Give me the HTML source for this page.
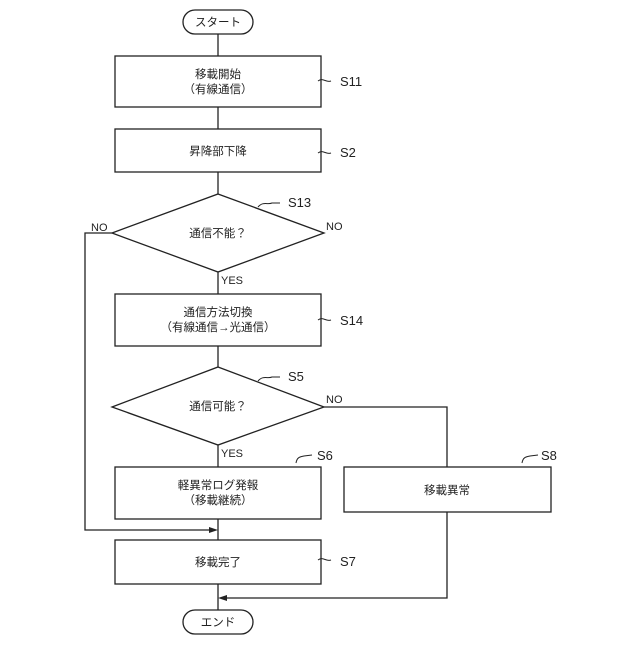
<!DOCTYPE html>
<html><head><meta charset="utf-8"><style>
html,body{margin:0;padding:0;background:#fff}
svg text{font-family:"Liberation Sans","Noto Sans CJK JP",sans-serif;fill:#222}
</style></head><body>
<svg width="640" height="640" viewBox="0 0 640 640" xmlns="http://www.w3.org/2000/svg">
<g stroke="#222" stroke-width="1.3" fill="none">
<rect x="183" y="10" width="70" height="24" rx="12"/>
<line x1="218" y1="34" x2="218" y2="56"/>
<rect x="115" y="56" width="206" height="51"/>
<line x1="218" y1="107" x2="218" y2="129"/>
<rect x="115" y="129" width="206" height="43"/>
<line x1="218" y1="172" x2="218" y2="194"/>
<polygon points="218,194 324,233 218,272 112,233"/>
<line x1="218" y1="272" x2="218" y2="294"/>
<rect x="115" y="294" width="206" height="52"/>
<line x1="218" y1="346" x2="218" y2="367"/>
<polygon points="218,367 324,407 218,445 112,407"/>
<line x1="218" y1="445" x2="218" y2="467"/>
<rect x="115" y="467" width="206" height="52"/>
<rect x="344" y="467" width="207" height="45"/>
<line x1="218" y1="519" x2="218" y2="540"/>
<rect x="115" y="540" width="206" height="44"/>
<line x1="218" y1="584" x2="218" y2="610"/>
<rect x="183" y="610" width="70" height="24" rx="12"/>
<polyline points="112,233 85,233 85,530 210,530"/>
<polyline points="324,407 447,407 447,467"/>
<polyline points="447,512 447,598 226,598"/>
<path d="M318,81 c5,-4 8,2 13,0 M318,153 c5,-4 8,2 13,0 M318,320 c5,-4 8,2 13,0 M318,560 c5,-4 8,2 13,0" stroke-width="1"/>
<path d="M258,207 c5,-6 10,-2 14,-4 l8,0 M258,381 c5,-6 10,-2 14,-4 l8,0 M296,463 c1,-6 4,-6 8,-7 l8,-1 M522,463 c1,-6 4,-6 8,-7 l8,-1" stroke-width="1"/>
</g>
<polygon points="218,530 209,527 209,533" fill="#222"/>
<polygon points="218,598 227,595 227,601" fill="#222"/>
<g font-size="11.5" text-anchor="middle">
<text x="218" y="26">スタート</text>
<text x="218" y="78">移載開始</text>
<text x="218" y="93">（有線通信）</text>
<text x="218" y="155">昇降部下降</text>
<text x="218" y="237">通信不能？</text>
<text x="218" y="316">通信方法切換</text>
<text x="218" y="331">（有線通信→光通信）</text>
<text x="218" y="410">通信可能？</text>
<text x="218" y="489">軽異常ログ発報</text>
<text x="218" y="504">（移載継続）</text>
<text x="447" y="494">移載異常</text>
<text x="218" y="566">移載完了</text>
<text x="218" y="626">エンド</text>
</g>
<g font-size="13">
<text x="340" y="86">S11</text>
<text x="340" y="157">S2</text>
<text x="288" y="207">S13</text>
<text x="340" y="325">S14</text>
<text x="288" y="381">S5</text>
<text x="317" y="460">S6</text>
<text x="541" y="460">S8</text>
<text x="340" y="566">S7</text>
</g>
<g font-size="11">
<text x="91" y="231">NO</text>
<text x="326" y="230">NO</text>
<text x="221" y="284">YES</text>
<text x="326" y="403">NO</text>
<text x="221" y="457">YES</text>
</g>
</svg>
</body></html>
